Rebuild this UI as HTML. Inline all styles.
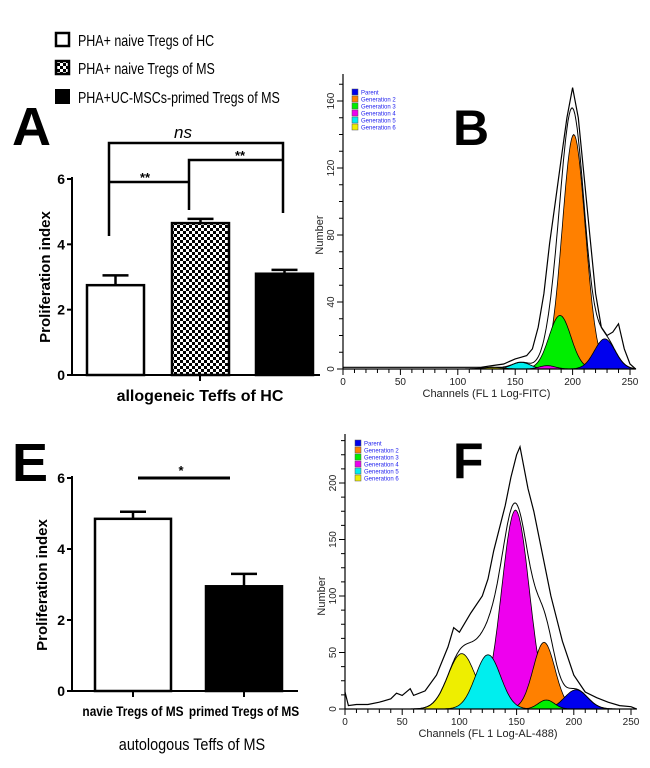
<!DOCTYPE html>
<html><head><meta charset="utf-8">
<style>
html,body{margin:0;padding:0;background:#fff;}
svg{display:block;font-family:"Liberation Sans",sans-serif;}
</style></head>
<body>
<svg id="fig" width="650" height="768" viewBox="0 0 650 768">
<defs>
<pattern id="chk" width="6" height="6" patternUnits="userSpaceOnUse">
<rect width="6" height="6" fill="#fff"/><rect width="3" height="3" fill="#000"/><rect x="3" y="3" width="3" height="3" fill="#000"/>
</pattern>
</defs>
<g>
<rect x="56" y="33" width="13" height="13" fill="#fff" stroke="#000" stroke-width="2.5"/>
<text x="78" y="46" font-size="16" transform="translate(78 0) scale(0.78 1) translate(-78 0)">PHA+ naive Tregs of HC</text>
<rect x="56" y="61" width="13" height="13" fill="url(#chk)" stroke="#000" stroke-width="2.5"/>
<text x="78" y="74" font-size="16" transform="translate(78 0) scale(0.78 1) translate(-78 0)">PHA+ naive Tregs of MS</text>
<rect x="55" y="89" width="15" height="15" fill="#000"/>
<text x="78" y="103" font-size="16" transform="translate(78 0) scale(0.78 1) translate(-78 0)">PHA+UC-MSCs-primed Tregs of MS</text>
</g>
<text x="12" y="145" font-size="54" font-weight="bold">A</text>
<text x="453" y="145" font-size="50" font-weight="bold">B</text>
<text x="12" y="481" font-size="54" font-weight="bold">E</text>
<text x="453" y="478" font-size="50" font-weight="bold">F</text>
<g id="gA"></g><g id="gB"></g><g id="gE"></g><g id="gF"></g>
</svg>
<script>
// ---- Panel A data ----
const catsA = ["PHA+ naive Tregs of HC","PHA+ naive Tregs of MS","PHA+UC-MSCs-primed Tregs of MS"];
const valsA = [2.75, 4.65, 3.1];
const errA = [3.05, 4.78, 3.22];
const ticksA = [0, 2, 4, 6];
// ---- Panel E data ----
const catsE = ["navie Tregs of MS", "primed Tregs of MS"];
const valsE = [4.85, 2.95];
const errE = [5.05, 3.3];
const ticksE = [0, 2, 4, 6];
// ---- Panel B data (gaussian fit components: center, height, sd) ----
const genNames = ["Parent","Generation 2","Generation 3","Generation 4","Generation 5","Generation 6"];
const genColors = ["#0000ee","#ff8000","#00ee00","#ee00ee","#00eeee","#eeee00"];
const centersB = [228, 201, 189, 178, 155, 130];
const heightsB = [18, 140, 32, 2, 4, 1];
const sdsB = [9, 10, 9.5, 7, 8, 9];
const rawChanB = [0,20,40,60,80,100,120,130,140,150,155,160,165,170,175,180,185,190,195,200,205,210,215,220,225,230,235,240,245,250,255];
const rawCountB = [1,1,1,1,1,1,1,2,3,6,7,8,12,25,45,75,100,125,150,168,150,115,80,45,25,20,22,27,12,3,0];
const ticksBx = [0,50,100,150,200,250];
const ticksBy = [0,40,80,120,160];
// ---- Panel F data ----
const centersF = [202, 174, 176, 149, 125, 102];
const heightsF = [17, 59, 8, 176, 48, 49];
const sdsF = [10, 9.5, 7, 12, 11, 12];
const rawChanF = [0,3,10,20,30,40,45,50,57,60,70,80,90,95,100,110,120,125,130,140,145,150,153,160,165,170,180,190,200,210,220,230,240,250,255];
const rawCountF = [15,3,4,4,6,9,14,12,18,12,16,30,55,72,68,85,100,115,140,180,205,225,232,195,175,150,100,60,30,15,10,6,3,2,0];
const ticksFx = [0,50,100,150,200,250];
const ticksFy = [0,50,100,150,200];

const NS = "http://www.w3.org/2000/svg";
function mk(parent, tag, attrs, txt){const e=document.createElementNS(NS,tag);for(const k in attrs)e.setAttribute(k,attrs[k]);if(txt!==undefined)e.textContent=txt;parent.appendChild(e);return e;}

function barChart(g, o){
  const y = v => o.y0 - v*(o.y0-o.y6)/6;
  let e;
  e = mk(g,"line",{x1:o.ax,y1:o.y6-2,x2:o.ax,y2:o.y0,stroke:"#000","stroke-width":2});
  
  
  e = mk(g,"line",{x1:o.ax,y1:o.y0,x2:o.axEnd,y2:o.y0,stroke:"#000","stroke-width":2});
  
  
  o.ticks.forEach(t=>{
    e = mk(g,"line",{x1:o.ax-5,y1:y(t),x2:o.ax,y2:y(t),stroke:"#000","stroke-width":2});
    
    
    e = mk(g,"text",{x:o.ax-7,y:y(t)+5,"font-size":14,"font-weight":"bold","text-anchor":"end"},String(t));
    
    
  });
  o.vals.forEach((v,i)=>{
    const x = o.bx[i], w = o.bw;
    e = mk(g,"line",{x1:x+w/2,y1:y(v),x2:x+w/2,y2:y(o.err[i]),stroke:"#000","stroke-width":2.5});
    
    
    e = mk(g,"line",{x1:x+w/2-13,y1:y(o.err[i]),x2:x+w/2+13,y2:y(o.err[i]),stroke:"#000","stroke-width":2.5});
    
    
    e = mk(g,"rect",{x:x,y:y(v),width:w,height:o.y0-y(v),fill:o.fills[i],stroke:"#000","stroke-width":2.5});
    
    
  });
  return y;
}

(function(){
  const g = document.getElementById("gA");
  barChart(g,{ax:72,axEnd:320,y0:375,y6:179,ticks:ticksA,vals:valsA,err:errA,bx:[87,172,256],bw:57,fills:["#fff","url(#chk)","#000"]});
  let e;
  e = mk(g,"line",{x1:200,y1:375,x2:200,y2:381,stroke:"#000","stroke-width":2});
  
  
  e = mk(g,"text",{x:50,y:277,"font-size":15,"font-weight":"bold","text-anchor":"middle",transform:"rotate(-90 50 277)"},"Proliferation index");
  
  
  e = mk(g,"text",{x:200,y:401,"font-size":16,"font-weight":"bold","text-anchor":"middle"},"allogeneic Teffs of HC");
  
  
  e = mk(g,"path",{d:"M109 236 V143 H283 V213",fill:"none",stroke:"#000","stroke-width":2.5});
  
  
  e = mk(g,"path",{d:"M109 182 H189 M189 210 V160 H283",fill:"none",stroke:"#000","stroke-width":2.5});
  
  
  e = mk(g,"text",{x:183,y:138,"font-size":17,"font-style":"italic","text-anchor":"middle"},"ns");
  
  
  e = mk(g,"text",{x:145,y:182,"font-size":13,"font-weight":"bold","text-anchor":"middle"},"**");
  
  
  e = mk(g,"text",{x:240,y:160,"font-size":13,"font-weight":"bold","text-anchor":"middle"},"**");
  
  
})();

(function(){
  const g = document.getElementById("gE");
  barChart(g,{ax:72,axEnd:298,y0:691,y6:478,ticks:ticksE,vals:valsE,err:errE,bx:[95,206],bw:76,fills:["#fff","#000"]});
  let e;
  [133,244].forEach((x,i)=>{
    e = mk(g,"line",{x1:x,y1:691,x2:x,y2:697,stroke:"#000","stroke-width":2});
    
    
    e = mk(g,"text",{x:x,y:716,"font-size":14,"font-weight":"bold","text-anchor":"middle",transform:`translate(${x} 0) scale(0.85 1) translate(${-x} 0)`},catsE[i]);
    
    
  });
  e = mk(g,"text",{x:47,y:585,"font-size":15,"font-weight":"bold","text-anchor":"middle",transform:"rotate(-90 47 585)"},"Proliferation index");
  
  
  e = mk(g,"text",{x:192,y:750,"font-size":17,"text-anchor":"middle",transform:"translate(192 0) scale(0.85 1) translate(-192 0)"},"autologous  Teffs of MS");
  
  
  e = mk(g,"line",{x1:138,y1:478,x2:230,y2:478,stroke:"#000","stroke-width":3});
  
  
  e = mk(g,"text",{x:181,y:475,"font-size":13,"font-weight":"bold","text-anchor":"middle"},"*");
  
  
})();

function hist(g,o){
  const X = c => o.x0 + c*(o.x250-o.x0)/250;
  const Y = v => o.y0 - v*(o.y0-o.yTop)/o.yTopVal;
  let e;
  const gauss = (c,i)=> o.h[i]*Math.exp(-0.5*Math.pow((c-o.c[i])/o.s[i],2));
  const order = o.h.map((h,i)=>i).sort((a,b)=>o.h[b]-o.h[a]);
  order.forEach(i=>{
    let d = "M"+X(0)+" "+Y(0);
    for(let c=0;c<=255;c+=1){ d += " L"+X(c).toFixed(1)+" "+Y(gauss(c,i)).toFixed(1); }
    d += " L"+X(255)+" "+Y(0)+" Z";
    e = mk(g,"path",{d:d,fill:o.colors[i],stroke:"#000","stroke-width":0.8});
    
    
  });
  let d="";
  for(let c=0;c<=255;c+=1){ let s=0; o.h.forEach((h,i)=>s+=gauss(c,i)); d += (c?" L":"M")+X(c).toFixed(1)+" "+Y(s).toFixed(1); }
  e = mk(g,"path",{d:d,fill:"none",stroke:"#000","stroke-width":1});
  
  
  d = o.rc.map((c,i)=>(i?"L":"M")+X(c).toFixed(1)+" "+Y(o.rv[i]).toFixed(1)).join(" ");
  e = mk(g,"path",{d:d,fill:"none",stroke:"#000","stroke-width":1.2});
  
  
  e = mk(g,"line",{x1:o.x0,y1:o.y0,x2:X(255),y2:o.y0,stroke:"#000","stroke-width":1.2});
  
  
  e = mk(g,"line",{x1:o.x0,y1:o.y0,x2:o.x0,y2:o.axTop,stroke:"#000","stroke-width":1.2});
  
  
  for(let c=0;c<=250;c+=10){
    const big = c%50===0;
    e = mk(g,"line",{x1:X(c),y1:o.y0,x2:X(c),y2:o.y0+(big?6:4),stroke:"#000","stroke-width":1});
    
    
  }
  o.xt.forEach(t=>{
    e = mk(g,"text",{x:X(t),y:o.y0+16,"font-size":10,"text-anchor":"middle",fill:"#222"},String(t));
    
    
  });
  const minor = o.yt[1]/4;
  for(let v=0; v<=o.yMax; v+=minor){
    const big = Math.abs(v/o.yt[1]-Math.round(v/o.yt[1]))<1e-6;
    e = mk(g,"line",{x1:o.x0-(big?6:4),y1:Y(v),x2:o.x0,y2:Y(v),stroke:"#000","stroke-width":1});
    
    
  }
  o.yt.forEach(t=>{
    const yy=Y(t), xx=o.x0-9;
    e = mk(g,"text",{x:xx,y:yy,"font-size":10,"text-anchor":"middle",fill:"#222",transform:`rotate(-90 ${xx} ${yy})`},String(t));
    
    
  });
  e = mk(g,"text",{x:(o.x0+X(250))/2,y:o.y0+28,"font-size":11,"text-anchor":"middle",fill:"#222"},o.xlabel);
  
  
  const ly=(o.y0+o.yTop)/2, lx=o.x0-20;
  e = mk(g,"text",{x:lx,y:ly,"font-size":11,"text-anchor":"middle",fill:"#222",transform:`rotate(-90 ${lx} ${ly})`},"Number");
  
  
  o.names.forEach((n,i)=>{
    const yy = o.legY + i*7;
    e = mk(g,"rect",{x:o.legX,y:yy,width:6,height:6,fill:o.colors[i],stroke:"#555","stroke-width":0.5});
    
    
    e = mk(g,"text",{x:o.legX+9,y:yy+5.5,"font-size":6,fill:"#2222ee"},n);
    
    
  });
}

hist(document.getElementById("gB"),{x0:343,x250:630,y0:369,yTop:101,yTopVal:160,yMax:170,axTop:74,
  c:centersB,h:heightsB,s:sdsB,rc:rawChanB,rv:rawCountB,xt:ticksBx,yt:ticksBy,names:genNames,colors:genColors,
  xlabel:"Channels (FL 1 Log-FITC)",legX:352,legY:89});
hist(document.getElementById("gF"),{x0:345,x250:631,y0:709,yTop:483,yTopVal:200,yMax:240,axTop:434,
  c:centersF,h:heightsF,s:sdsF,rc:rawChanF,rv:rawCountF,xt:ticksFx,yt:ticksFy,names:genNames,colors:genColors,
  xlabel:"Channels (FL 1 Log-AL-488)",legX:355,legY:440});
</script>
</body></html>
